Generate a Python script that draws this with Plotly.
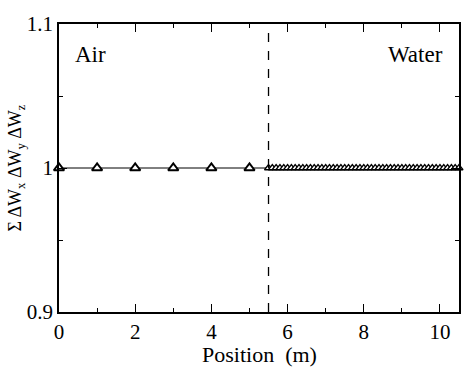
import plotly.graph_objects as go

air_x = [0, 1, 2, 3, 4, 5]
air_y = [1, 1, 1, 1, 1, 1]
water_x = [round(5.5 + 0.1 * i, 2) for i in range(51)]
water_y = [1] * len(water_x)
interface_x = 5.5

tick_font = dict(family="Liberation Serif", size=21, color="black")
ann_font = dict(family="Liberation Serif", size=23, color="black")
title_font = dict(family="Liberation Serif", size=22, color="black")

fig = go.Figure()
fig.add_trace(go.Scatter(x=air_x + water_x, y=air_y + water_y, mode="lines",
                         line=dict(color="black", width=1), showlegend=False))
fig.add_trace(go.Scatter(x=air_x, y=air_y, mode="markers",
                         marker=dict(symbol="triangle-up", size=9, color="white",
                                     line=dict(color="black", width=2)),
                         showlegend=False, cliponaxis=False))
fig.add_trace(go.Scatter(x=water_x, y=water_y, mode="markers",
                         marker=dict(symbol="triangle-up", size=7, color="white",
                                     line=dict(color="black", width=1.3)),
                         showlegend=False, cliponaxis=False))
fig.add_shape(type="line", x0=interface_x, x1=interface_x, y0=0.9, y1=1.1,
              xref="x", yref="y", line=dict(color="black", width=1.3, dash="dash"))

fig.add_annotation(x=0.035, y=0.895, xref="paper", yref="paper", text="Air",
                   showarrow=False, xanchor="left", yanchor="middle", font=ann_font)
fig.add_annotation(x=0.965, y=0.895, xref="paper", yref="paper", text="Water",
                   showarrow=False, xanchor="right", yanchor="middle", font=ann_font)
# x-axis title placed as an annotation below the tick labels
fig.add_annotation(x=0.5, y=-0.148, xref="paper", yref="paper", text="Position  (m)",
                   showarrow=False, xanchor="center", yanchor="middle", font=title_font)

fig.update_xaxes(range=[0, 10.5], tickvals=[0, 2, 4, 6, 8, 10], ticks="inside",
                 ticklen=8, tickwidth=1.3, tickcolor="black",
                 minor=dict(tickvals=[1, 3, 5, 7, 9], ticks="inside", ticklen=4,
                            tickwidth=1.3, tickcolor="black"),
                 showline=True, linecolor="black", linewidth=1.5, mirror="ticks",
                 showgrid=False, zeroline=False, tickfont=tick_font)
fig.update_yaxes(range=[0.9, 1.1], tickvals=[0.9, 1.0, 1.1], ticktext=["0.9", "1", "1.1"],
                 ticks="inside", ticklen=8, tickwidth=1.3, tickcolor="black",
                 minor=dict(tickvals=[0.95, 1.05], ticks="inside", ticklen=4,
                            tickwidth=1.3, tickcolor="black"),
                 showline=True, linecolor="black", linewidth=1.5, mirror="ticks",
                 showgrid=False, zeroline=False, tickfont=tick_font,
                 title=dict(text="Σ ΔW<sub>x</sub> ΔW<sub>y</sub> ΔW<sub>z</sub>",
                            font=dict(family="Liberation Serif", size=18, color="black"),
                            standoff=0))
fig.update_layout(width=465, height=367, margin=dict(l=59, r=4, t=24, b=55),
                  plot_bgcolor="white", paper_bgcolor="white")
fig.write_html("out.html")
